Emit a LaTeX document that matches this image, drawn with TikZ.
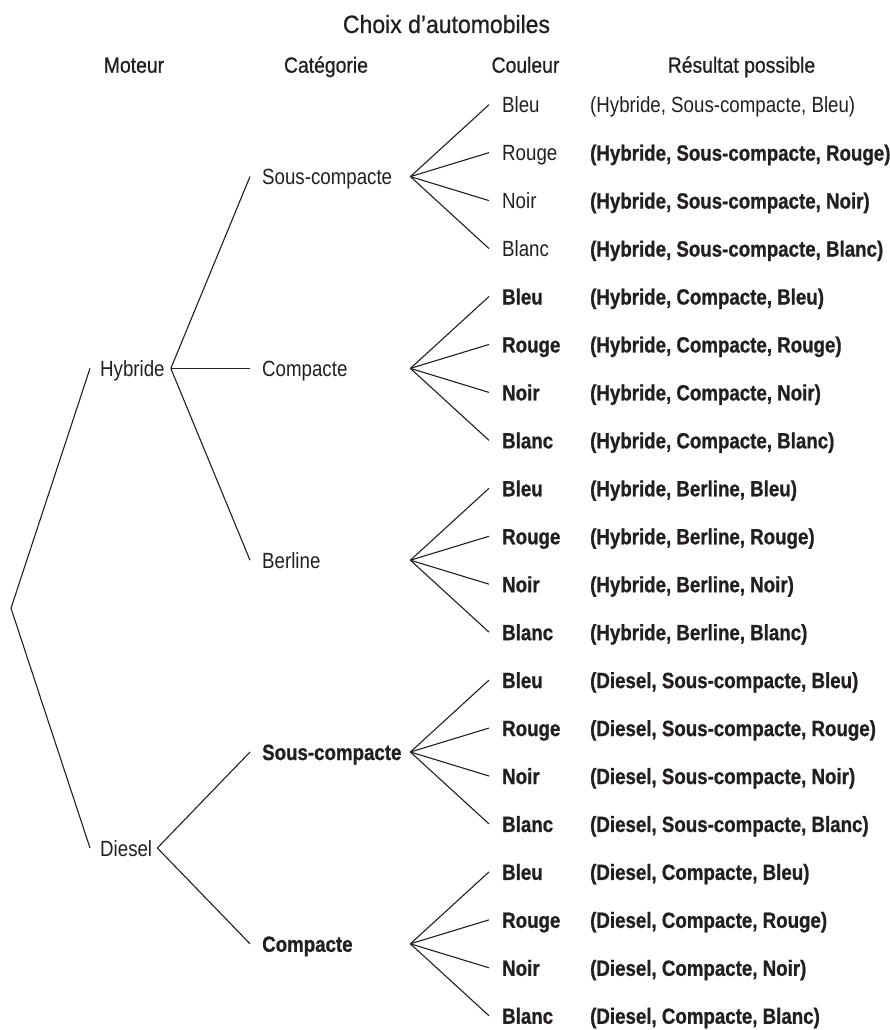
\documentclass[tikz,border=0pt]{standalone}
\usepackage{fontspec}
\setmainfont{Liberation Sans}[FakeStretch=0.85, BoldFeatures={FakeBold=0.9}]
\newfontfamily\headfont{Liberation Sans}[FakeStretch=0.88, FakeBold=0.8]
\newfontfamily\titlefont{Liberation Sans}[FakeStretch=0.92, FakeBold=0.8]
\definecolor{ink}{HTML}{231F20}
\begin{document}
\begin{tikzpicture}[x=1pt,y=-1pt,
  txt/.style={anchor=west, inner sep=0pt, text height=16pt, text depth=0pt,
              text=ink, font=\fontsize{22}{24}\selectfont},
  txtb/.style={txt, font=\fontsize{22}{24}\selectfont\bfseries},
  catbox/.style={text width=143pt, align=left},
  head/.style={inner sep=0pt, text height=16pt, text depth=0pt, text=ink,
               font=\headfont\fontsize{22}{24}\selectfont},
  branch/.style={draw=ink, line width=1.1pt, line join=miter}]
\useasboundingbox (0,0) rectangle (890,1030);

% titles
\node[head, text height=18pt, font=\titlefont\fontsize{25}{27}\selectfont]
  (title) at (446.5,24) {Choix d’automobiles};
\node[head] (hmot) at (134,64.7) {Moteur};
\node[head] (hcat) at (326,64.7) {Catégorie};
\node[head] (hcol) at (525.5,64.7) {Couleur};
\node[head] (hres) at (741.5,64.7) {Résultat possible};

% engine level
\coordinate (root) at (11,608.2);
\node[txt] (hy) at (100,368.4) {Hybride};
\node[txt] (di) at (100,848.0) {Diesel};

% category level
\node[txt, catbox]  (cat0) at (262,176.6) {Sous-compacte};
\node[txt, catbox]  (cat1) at (262,368.4) {Compacte};
\node[txt, catbox]  (cat2) at (262,560.2) {Berline};
\node[txtb, catbox] (cat3) at (262,752.0) {Sous-compacte};
\node[txtb, catbox] (cat4) at (262,943.8) {Compacte};

% colour level and outcomes
\foreach \k/\col/\cst/\res/\rst in {
  0/Bleu/txt/{(Hybride, Sous-compacte, Bleu)}/txt,
  1/Rouge/txt/{(Hybride, Sous-compacte, Rouge)}/txtb,
  2/Noir/txt/{(Hybride, Sous-compacte, Noir)}/txtb,
  3/Blanc/txt/{(Hybride, Sous-compacte, Blanc)}/txtb,
  4/Bleu/txtb/{(Hybride, Compacte, Bleu)}/txtb,
  5/Rouge/txtb/{(Hybride, Compacte, Rouge)}/txtb,
  6/Noir/txtb/{(Hybride, Compacte, Noir)}/txtb,
  7/Blanc/txtb/{(Hybride, Compacte, Blanc)}/txtb,
  8/Bleu/txtb/{(Hybride, Berline, Bleu)}/txtb,
  9/Rouge/txtb/{(Hybride, Berline, Rouge)}/txtb,
  10/Noir/txtb/{(Hybride, Berline, Noir)}/txtb,
  11/Blanc/txtb/{(Hybride, Berline, Blanc)}/txtb,
  12/Bleu/txtb/{(Diesel, Sous-compacte, Bleu)}/txtb,
  13/Rouge/txtb/{(Diesel, Sous-compacte, Rouge)}/txtb,
  14/Noir/txtb/{(Diesel, Sous-compacte, Noir)}/txtb,
  15/Blanc/txtb/{(Diesel, Sous-compacte, Blanc)}/txtb,
  16/Bleu/txtb/{(Diesel, Compacte, Bleu)}/txtb,
  17/Rouge/txtb/{(Diesel, Compacte, Rouge)}/txtb,
  18/Noir/txtb/{(Diesel, Compacte, Noir)}/txtb,
  19/Blanc/txtb/{(Diesel, Compacte, Blanc)}/txtb}
{
  \node[\cst] (c\k) at (502,{104.7+47.95*\k}) {\col};
  \node[\rst] (r\k) at (590,{104.7+47.95*\k}) {\res};
}

% branches: root to engines
\draw[branch] ([xshift=-10pt]hy.west) -- (root) -- ([xshift=-10pt]di.west);
% engines to categories
\foreach \g in {0,1,2}
  \draw[branch] ([xshift=6pt]hy.east) -- ([xshift=-12pt]cat\g.west);
\foreach \g in {3,4}
  \draw[branch] ([xshift=5pt]di.east) -- ([xshift=-12pt]cat\g.west);
% categories to colours
\foreach \g in {0,...,4}
  \foreach \j in {0,...,3}{
    \pgfmathtruncatemacro{\k}{4*\g+\j}
    \draw[branch] ([xshift=5pt]cat\g.east) -- ([xshift=-13pt]c\k.west);
  }
\end{tikzpicture}
\end{document}
